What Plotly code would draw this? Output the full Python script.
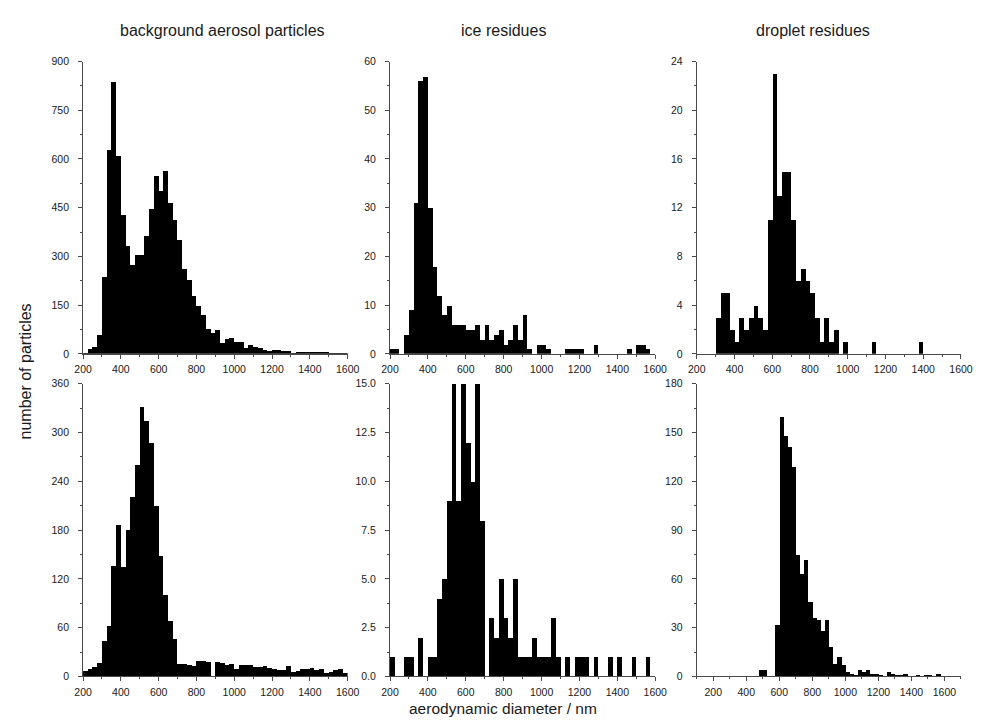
import plotly.graph_objects as go

# Lower edges of the 25 nm aerodynamic-diameter bins
bin_start = [200, 225, 250, 275, 300, 325, 350, 375, 400, 425,
             450, 475, 500, 525, 550, 575, 600, 625, 650, 675,
             700, 725, 750, 775, 800, 825, 850, 875, 900, 925,
             950, 975, 1000, 1025, 1050, 1075, 1100, 1125, 1150, 1175,
             1200, 1225, 1250, 1275, 1300, 1325, 1350, 1375, 1400, 1425,
             1450, 1475, 1500, 1525, 1550, 1575]
bin_width = 25

# Particle counts per bin, upper row
background_upper = [3, 15, 22, 60, 238, 630, 839, 610, 429, 332,
                    276, 307, 307, 365, 446, 548, 503, 565, 465, 415,
                    353, 263, 229, 179, 149, 120, 77, 66, 74, 35,
                    46, 50, 37, 37, 19, 29, 21, 19, 14, 11,
                    13, 14, 11, 10, 4, 8, 8, 6, 6, 6,
                    6, 6, 3, 5, 3, 2]
ice_upper = [1, 1, 0, 4, 9, 31, 56, 57, 30, 18,
             12, 8, 10, 6, 6, 6, 5, 5, 6, 3,
             6, 3, 4, 5, 2, 3, 6, 3, 8, 1,
             0, 2, 2, 1, 0, 0, 0, 1, 1, 1,
             1, 0, 0, 2, 0, 0, 0, 0, 0, 0,
             1, 0, 2, 2, 1, 0]
droplet_upper = [0, 0, 0, 0, 3, 5, 5, 2, 1, 3,
                 2, 3, 4, 3, 2, 11, 23, 13, 15, 15,
                 11, 6, 7, 6, 5, 3, 1, 3, 1, 2,
                 0, 1, 0, 0, 0, 0, 0, 1, 0, 0,
                 0, 0, 0, 0, 0, 0, 0, 1, 0, 0,
                 0, 0, 0, 0, 0, 0]

# Particle counts per bin, lower row
background_lower = [7, 9, 12, 17, 44, 62, 136, 187, 135, 181,
                    221, 260, 332, 315, 287, 210, 148, 101, 69, 47,
                    16, 16, 15, 13, 20, 19, 18, 0, 18, 17,
                    15, 16, 9, 15, 14, 15, 12, 12, 13, 11,
                    10, 8, 8, 13, 6, 7, 9, 10, 11, 8,
                    9, 5, 6, 8, 9, 5]
ice_lower = [1, 0, 0, 1, 1, 0, 2, 0, 1, 1,
             4, 5, 9, 15, 9, 15, 12, 10, 15, 8,
             0, 3, 2, 5, 3, 2, 5, 1, 1, 1,
             2, 1, 1, 1, 3, 1, 0, 1, 0, 1,
             1, 1, 0, 1, 0, 0, 1, 0, 1, 0,
             0, 1, 0, 0, 1, 0]
droplet_lower = [0, 0, 0, 0, 0, 0, 0, 0, 0, 0,
                 0, 4, 4, 0, 0, 32, 160, 148, 141, 129,
                 75, 63, 72, 46, 36, 35, 28, 35, 18, 8,
                 12, 7, 3, 2, 1, 4, 3, 4, 2, 2,
                 1, 0, 3, 2, 1, 1, 2, 0, 0, 1,
                 0, 1, 1, 0, 2, 0]

column_titles = ["background aerosol particles", "ice residues", "droplet residues"]
x_title = "aerodynamic diameter / nm"
y_title = "number of particles"

panels = [
    # counts, y max, y major step, x range
    (background_upper, 900, 150, [200, 1600]),
    (ice_upper, 60, 10, [200, 1600]),
    (droplet_upper, 24, 4, [200, 1600]),
    (background_lower, 360, 60, [200, 1600]),
    (ice_lower, 15, 2.5, [200, 1600]),
    (droplet_lower, 180, 30, [100, 1700]),
]

W, H = 985, 724
col_px = [(75.7, 346.0), (389.3, 660.3), (702.7, 972.7)]
row_px = [(56.5, 353.7), (384.0, 681.7)]

FONT = "Arial, Liberation Sans, sans-serif"
AXIS_COLOR = "#4a4a4a"
TEXT_COLOR = "#1a1a1a"

centers = [b + bin_width / 2 for b in bin_start]

fig = go.Figure()
layout = {}
for k, (counts, ymax, ystep, xr) in enumerate(panels):
    r, c = divmod(k, 3)
    n = k + 1
    xa = "x" if n == 1 else f"x{n}"
    ya = "y" if n == 1 else f"y{n}"
    fig.add_trace(go.Bar(
        x=centers, y=counts, width=bin_width,
        marker=dict(color="black", line=dict(width=0)),
        xaxis=xa, yaxis=ya, showlegend=False,
    ))
    x0, x1 = col_px[c]
    y0, y1 = row_px[r]
    common = dict(
        showline=True, linecolor=AXIS_COLOR, linewidth=1,
        ticks="outside", ticklen=4, tickwidth=1, tickcolor=AXIS_COLOR,
        showgrid=False, zeroline=False,
        tickfont=dict(family=FONT, size=10.5, color=TEXT_COLOR),
    )
    layout["xaxis" if n == 1 else f"xaxis{n}"] = dict(
        common, domain=[x0 / W, x1 / W], range=xr, anchor=ya,
        tick0=0, dtick=200, ticklabelstandoff=2,
        minor=dict(ticks="outside", ticklen=2, tickcolor=AXIS_COLOR, dtick=100, tick0=0),
    )
    layout["yaxis" if n == 1 else f"yaxis{n}"] = dict(
        common, domain=[1 - y1 / H, 1 - y0 / H], range=[0, ymax], anchor=xa,
        tick0=0, dtick=ystep, ticklabelstandoff=7,
        tickformat=".1f" if ystep == 2.5 else "d",
        minor=dict(ticks="outside", ticklen=2, tickcolor=AXIS_COLOR, dtick=ystep / 2, tick0=0),
    )

annotations = []
for title, xc in zip(column_titles, [218, 505, 822]):
    annotations.append(dict(
        text=title, x=xc / W, y=1 - 25 / H, xref="paper", yref="paper",
        xanchor="center", yanchor="middle", showarrow=False,
        font=dict(family=FONT, size=16, color=TEXT_COLOR),
    ))
annotations.append(dict(
    text=x_title, x=505 / W, y=1 - 714 / H, xref="paper", yref="paper",
    xanchor="center", yanchor="middle", showarrow=False,
    font=dict(family=FONT, size=15.5, color=TEXT_COLOR),
))
annotations.append(dict(
    text=y_title, x=17 / W, y=1 - 372 / H, xref="paper", yref="paper",
    xanchor="center", yanchor="middle", showarrow=False, textangle=-90,
    font=dict(family=FONT, size=16, color=TEXT_COLOR),
))

fig.update_layout(
    width=W, height=H,
    margin=dict(l=0, r=0, t=0, b=0),
    paper_bgcolor="white", plot_bgcolor="white",
    bargap=0, annotations=annotations,
    **layout,
)

fig.write_html("out.html")
